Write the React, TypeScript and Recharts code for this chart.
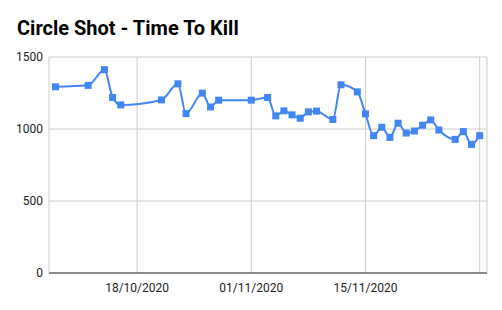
import React from 'react';
import { LineChart, Line, XAxis, YAxis, CartesianGrid } from 'recharts';

// dates (dd/mm/yyyy) and time-to-kill values
const dates = [
  '08/10/2020', '12/10/2020', '14/10/2020', '15/10/2020', '16/10/2020',
  '21/10/2020', '23/10/2020', '24/10/2020', '26/10/2020', '27/10/2020',
  '28/10/2020', '01/11/2020', '03/11/2020', '04/11/2020', '05/11/2020',
  '06/11/2020', '07/11/2020', '08/11/2020', '09/11/2020', '11/11/2020',
  '12/11/2020', '14/11/2020', '15/11/2020', '16/11/2020', '17/11/2020',
  '18/11/2020', '19/11/2020', '20/11/2020', '21/11/2020', '22/11/2020',
  '23/11/2020', '24/11/2020', '26/11/2020', '27/11/2020', '28/11/2020',
  '29/11/2020',
];
const timeToKill = [
  1293, 1303, 1412, 1219, 1167,
  1202, 1314, 1107, 1249, 1153,
  1200, 1200, 1219, 1091, 1126,
  1098, 1075, 1119, 1124, 1066,
  1307, 1258, 1105, 954, 1012,
  942, 1040, 972, 986, 1026,
  1063, 993, 928, 982, 893,
  954,
];
const xTickDates = ['18/10/2020', '01/11/2020', '15/11/2020', '29/11/2020'];
const labelledTicks = ['18/10/2020', '01/11/2020', '15/11/2020'];
const yTicks = [0, 500, 1000, 1500];

const toTs = (s: string) => {
  const [d, m, y] = s.split('/').map(Number);
  return Date.UTC(y, m - 1, d);
};
const fmt = (ts: number) => {
  const d = new Date(ts);
  const dd = String(d.getUTCDate()).padStart(2, '0');
  const mm = String(d.getUTCMonth() + 1).padStart(2, '0');
  return `${dd}/${mm}/${d.getUTCFullYear()}`;
};

const DAY = 86400000;
const data = dates.map((d, i) => ({ t: toTs(d), v: timeToKill[i] }));
const xTicks = xTickDates.map(toTs);
const xDomain = [toTs('18/10/2020') - 10.8 * DAY, toTs('29/11/2020') + 0.9 * DAY];

const SquareDot = (props: any) => {
  const { cx, cy } = props;
  if (cx == null || cy == null) return null;
  return <rect x={cx - 3.5} y={cy - 3.5} width={7} height={7} fill="#4285F4" />;
};

const font = 'Roboto, "Noto Sans", sans-serif';

export default function App() {
  return (
    <div style={{ position: 'absolute', left: 0, top: 0, width: 502, height: 310, background: '#fff', fontFamily: font }}>
      <div style={{ position: 'absolute', left: 17, top: 16, fontSize: 20, fontWeight: 700, color: '#000', lineHeight: '24px' }}>
        Circle Shot - Time To Kill
      </div>
      <LineChart width={502} height={310} data={data} margin={{ top: 57, right: 15, bottom: 7, left: 0 }}>
        <CartesianGrid stroke="#cccccc" strokeWidth={1} />
        <XAxis
          dataKey="t"
          type="number"
          scale="time"
          domain={xDomain}
          ticks={xTicks}
          tickFormatter={(ts: number) => (labelledTicks.includes(fmt(ts)) ? fmt(ts) : '')}
          tickLine={false}
          tickSize={0}
          tickMargin={10}
          height={30}
          axisLine={{ stroke: '#333333', strokeWidth: 1 }}
          tick={{ fill: '#222222', fontSize: 12, fontFamily: font }}
        />
        <YAxis
          type="number"
          domain={[0, 1500]}
          ticks={yTicks}
          axisLine={false}
          tickLine={false}
          tickSize={0}
          tickMargin={6}
          width={49}
          tick={{ fill: '#222222', fontSize: 12, fontFamily: font }}
        />
        <Line
          dataKey="v"
          type="monotone"
          stroke="#4285F4"
          strokeWidth={2}
          dot={<SquareDot />}
          activeDot={false}
          isAnimationActive={false}
        />
      </LineChart>
    </div>
  );
}
